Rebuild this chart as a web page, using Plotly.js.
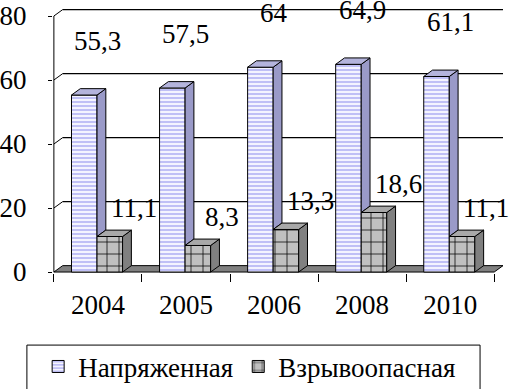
<!DOCTYPE html>
<html>
<head>
<meta charset="utf-8">
<script src="https://cdn.plot.ly/plotly-3.0.1.min.js"></script>
<style>html,body{margin:0;padding:0;background:#fff;}#chart{width:519px;height:389px;}</style>
</head>
<body>
<div id="chart"></div>
<script>
const years = ['2004', '2005', '2006', '2008', '2010'];
const napr = [55.3, 57.5, 64, 64.9, 61.1];
const vzr = [11.1, 8.3, 13.3, 18.6, 11.1];
const naprLabels = ['55,3', '57,5', '64', '64,9', '61,1'];
const vzrLabels = ['11,1', '8,3', '13,3', '18,6', '11,1'];
const yTicks = [0, 20, 40, 60, 80];
const seriesNames = ['Напряженная', 'Взрывоопасная'];

// geometry of pseudo-3D
const DX = 0.1, DY = 2.0, W = 0.29, OFF1 = -0.30, OFF2 = -0.01;
const idx = years.map((_, i) => i);
const serif = 'Liberation Serif';

function polys(builder) {
  const xs = [], ys = [];
  idx.forEach(i => {
    const p = builder(i);
    p.forEach(pt => { xs.push(pt[0]); ys.push(pt[1]); });
    xs.push(null); ys.push(null);
  });
  return {xs, ys};
}
function face(pp, color) {
  return {type: 'scatter', mode: 'lines', x: pp.xs, y: pp.ys, fill: 'toself',
    fillcolor: color, line: {color: '#000', width: 1}, hoverinfo: 'skip', showlegend: false};
}

const side1 = polys(i => { const x1 = i + OFF1 + W; const b = vzr[i];
  return [[x1, b], [x1, napr[i]], [x1 + DX, napr[i] + DY], [x1 + DX, b + DY], [x1, b]]; });
const top1 = polys(i => { const a = i + OFF1, b = a + W, v = napr[i];
  return [[a, v], [b, v], [b + DX, v + DY], [a + DX, v + DY], [a, v]]; });
const side2 = polys(i => { const x2 = i + OFF2 + W, v = vzr[i];
  return [[x2, 0], [x2, v], [x2 + DX, v + DY], [x2 + DX, DY], [x2, 0]]; });
const top2 = polys(i => { const a = i + OFF2, b = a + W, v = vzr[i];
  return [[a, v], [b, v], [b + DX, v + DY], [a + DX, v + DY], [a, v]]; });

const data = [
  {type: 'bar', name: seriesNames[0], x: idx, y: napr, width: W, offset: OFF1,
   marker: {color: '#f2f2ff', line: {color: '#000', width: 1},
     pattern: {shape: '-', fgcolor: '#8c8cee', bgcolor: '#f4f4ff', size: 4, solidity: 0.25}},
   hoverinfo: 'x+y'},
  {type: 'bar', name: seriesNames[1], x: idx, y: vzr, width: W, offset: OFF2,
   marker: {color: '#c0c0c0', line: {color: '#000', width: 1},
     pattern: {shape: '+', fgcolor: '#000', bgcolor: '#c0c0c0', size: 12, solidity: 0.12}},
   hoverinfo: 'x+y'},
  face(side1, '#9a9ac8'),
  face(top1, '#b4b4dc'),
  face(side2, '#808080'),
  face(top2, '#a8a8a8')
];

const shapes = [];
yTicks.filter(v => v > 0).forEach(v => {
  shapes.push({type: 'line', xref: 'x', yref: 'y', x0: -0.5 + DX, x1: 4.5 + DX, y0: v + DY, y1: v + DY,
    line: {color: '#000', width: 1.2}, layer: 'below'});
  shapes.push({type: 'line', xref: 'x', yref: 'y', x0: -0.5, x1: -0.5 + DX, y0: v, y1: v + DY,
    line: {color: '#000', width: 1}, layer: 'below'});
});
// floor
shapes.push({type: 'path', xref: 'x', yref: 'y',
  path: `M-0.5,0 L4.5,0 L${4.5 + DX},${DY} L${-0.5 + DX},${DY} Z`,
  fillcolor: '#808080', line: {color: '#000', width: 1}, layer: 'below'});
// front y axis line
shapes.push({type: 'line', xref: 'x', yref: 'y', x0: -0.5, x1: -0.5, y0: 0, y1: 80,
  line: {color: '#000', width: 1}});
// legend box
shapes.push({type: 'rect', xref: 'paper', yref: 'paper', x0: -0.058, x1: 0.949, y0: -0.48, y1: -0.272,
  line: {color: '#000', width: 1}, fillcolor: 'rgba(0,0,0,0)'});

const annotations = [];
idx.forEach(i => {
  annotations.push({x: i, y: napr[i] + 17, xref: 'x', yref: 'y', text: naprLabels[i], showarrow: false,
    xanchor: 'center', yanchor: 'middle', font: {family: serif, size: 27, color: '#000'}});
  annotations.push({x: i + 0.41, y: vzr[i] + 8.8, xref: 'x', yref: 'y', text: vzrLabels[i], showarrow: false,
    xanchor: 'center', yanchor: 'middle', font: {family: serif, size: 27, color: '#000'}});
});

const layout = {
  width: 519, height: 389,
  margin: {l: 53, r: 16, t: 8, b: 116, autoexpand: false},
  paper_bgcolor: '#fff', plot_bgcolor: '#fff',
  font: {family: serif, color: '#000'},
  showlegend: true,
  barmode: 'overlay',
  xaxis: {range: [-0.51, 4.6], tickvals: idx, ticktext: years, ticks: '', showgrid: false, zeroline: false,
    showline: false, tickfont: {family: serif, size: 27, color: '#000'}, ticklabelstandoff: 13,
    automargin: false,
    minor: {tickvals: [-0.5, 0.5, 1.5, 2.5, 3.5, 4.5], ticks: 'outside', ticklen: 8, tickcolor: '#000', tickwidth: 1, showgrid: false}},
  yaxis: {range: [-0.3, 82.5], tickvals: yTicks, ticks: 'outside', ticklen: 4, tickcolor: '#000',
    showgrid: false, zeroline: false, showline: false, ticklabelstandoff: 16, automargin: false,
    tickfont: {family: serif, size: 27, color: '#000'}},
  legend: {orientation: 'h', x: -0.033, y: -0.262, xanchor: 'left', yanchor: 'top',
    bgcolor: 'rgba(0,0,0,0)', borderwidth: 0,
    font: {family: serif, size: 27, color: '#000'}},
  shapes, annotations
};

Plotly.newPlot('chart', data, layout, {staticPlot: true, displayModeBar: false});
</script>
</body>
</html>
